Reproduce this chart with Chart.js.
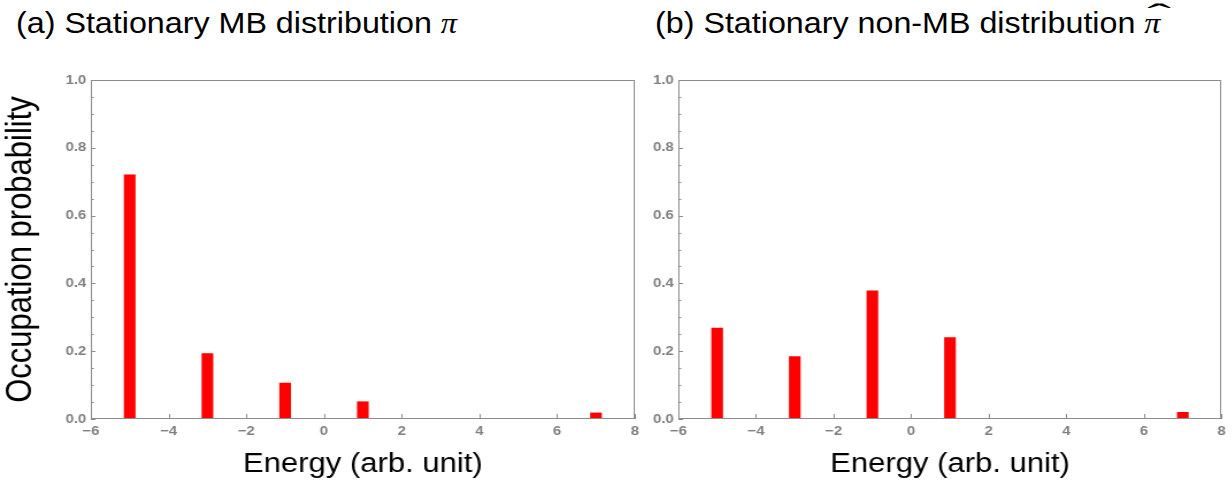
<!DOCTYPE html>
<html>
<head>
<meta charset="utf-8">
<script src="https://cdn.jsdelivr.net/npm/chart.js@4"></script>
<style>
  body { margin: 0; background: #fff; width: 1232px; height: 481px; overflow: hidden; position: relative; font-family: "Liberation Sans", Arial, sans-serif; }
  .title { position: absolute; top: 6px; font-size: 30px; color: #000; white-space: nowrap; transform: scaleX(1.075); transform-origin: 0 0; }
  .pi { font-family: "Liberation Serif", "DejaVu Serif", serif; font-style: italic; position: relative; display: inline-block; }
  .hat { position: absolute; left: 3px; top: -9px; font-style: normal; transform: scaleX(2.2); transform-origin: 0 0; }
  /* the reference is a little wider than tall, so the plots are stretched sideways */
  .box { position: absolute; top: 60px; height: 421px; transform: scaleX(1.15); transform-origin: 0 0; }
</style>
</head>
<body>
<div class="title" style="left:16px">(a) Stationary MB distribution <span class="pi">π</span></div>
<div class="title" style="left:655px">(b) Stationary non-MB distribution <span class="pi">π<span class="hat">ˆ</span></span></div>
<div class="box" style="left:0; width:561px"><canvas id="chartA"></canvas></div>
<div class="box" style="left:645px; width:510px"><canvas id="chartB"></canvas></div>
<script>
// energy levels (x) and occupation probabilities
const energies = [-5, -3, -1, 1, 7];
const probMB = [0.72, 0.193, 0.106, 0.051, 0.018];
const probNonMB = [0.268, 0.184, 0.378, 0.24, 0.02];

const xMin = -6, xMax = 8, xStep = 2;
const yMin = 0, yMax = 1, yStep = 0.05;

const axisGray = '#8c8c8c';
const labelGray = '#808080';

function fmt(v) {
    const s = Math.abs(v) < 1e-9 ? '0' : String(v);
    return s.replace('-', '\u2212');
}

function isMajor(v) {
    return Math.abs(v * 5 - Math.round(v * 5)) < 1e-6;
}

// frame with inward ticks, like Mathematica
const framePlugin = {
    id: 'frame',
    afterDraw(chart) {
        const { ctx, chartArea: a, scales: { x, y } } = chart;
        ctx.save();
        ctx.strokeStyle = axisGray;
        ctx.lineWidth = 1;
        ctx.strokeRect(Math.round(a.left) + 0.5, Math.round(a.top) + 0.5,
            Math.round(a.right - a.left) - 1, Math.round(a.bottom - a.top) - 1);
        ctx.beginPath();
        x.ticks.forEach(t => {
            const px = Math.round(x.getPixelForValue(t.value)) + 0.5;
            ctx.moveTo(px, a.bottom);
            ctx.lineTo(px, a.bottom - 5);
        });
        y.ticks.forEach(t => {
            const py = Math.round(y.getPixelForValue(t.value)) + 0.5;
            ctx.moveTo(a.left, py);
            ctx.lineTo(a.left + (isMajor(t.value) ? 4 : 2.5), py);
        });
        ctx.stroke();
        ctx.restore();
    }
};

function makeChart(id, values, yWidth, padRight, showYTitle) {
    const ctx = document.getElementById(id).getContext('2d');
    return new Chart(ctx, {
        type: 'bar',
        data: {
            datasets: [{
                data: energies.map((e, i) => ({ x: e, y: values[i] })),
                backgroundColor: '#ff0000',
                borderWidth: 0,
                barThickness: 9.5
            }]
        },
        options: {
            responsive: true,
            maintainAspectRatio: false,
            animation: false,
            layout: { padding: { top: 20, right: padRight, left: 0, bottom: 0 } },
            plugins: { legend: { display: false }, tooltip: { enabled: false } },
            scales: {
                x: {
                    type: 'linear',
                    min: xMin,
                    max: xMax,
                    offset: false,
                    grid: { display: false, drawTicks: false },
                    border: { display: false },
                    ticks: {
                        stepSize: xStep,
                        padding: 5,
                        color: labelGray,
                        font: { family: 'Liberation Sans', size: 13, weight: 'bold' },
                        maxRotation: 0,
                        autoSkip: false,
                        callback: v => fmt(v)
                    },
                    title: {
                        display: true,
                        text: 'Energy (arb. unit)',
                        color: '#000',
                        font: { family: 'Liberation Sans', size: 27 },
                        padding: { top: 2, bottom: 0 }
                    },
                    afterFit: s => { s.height = 62; }
                },
                y: {
                    min: yMin,
                    max: yMax,
                    grid: { display: false, drawTicks: false },
                    border: { display: false },
                    ticks: {
                        stepSize: yStep,
                        padding: 4,
                        color: labelGray,
                        font: { family: 'Liberation Sans', size: 13, weight: 'bold' },
                        autoSkip: false,
                        callback: v => isMajor(v) ? v.toFixed(1) : ''
                    },
                    title: {
                        display: showYTitle,
                        text: 'Occupation probability',
                        color: '#000',
                        font: { family: 'Liberation Sans', size: 31 },
                        padding: { top: 0, bottom: 0 }
                    },
                    afterFit: s => { s.width = yWidth; }
                }
            }
        },
        plugins: [framePlugin]
    });
}

makeChart('chartA', probMB, 79, 9, true);
makeChart('chartB', probNonMB, 29, 8, false);
</script>
</body>
</html>
